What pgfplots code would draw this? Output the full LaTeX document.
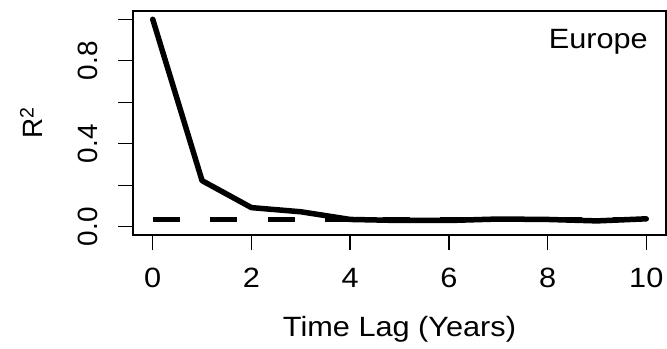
\documentclass[border=0pt]{standalone}
\usepackage{pgfplots}
\pgfplotsset{compat=1.18}
\usepackage{fontspec}
\setmainfont{Liberation Sans}[FakeStretch=1.1]
\newfontfamily\rotfont{Liberation Sans}
\begin{document}
\begin{tikzpicture}
\begin{axis}[
  width=533bp, height=224bp, scale only axis,
  xmin=-0.4, xmax=10.4, ymin=-0.04, ymax=1.04,
  axis line style={line width=1.3bp},
  every tick/.style={line width=1.3bp, black},
  tick align=outside, tick pos=left,
  major tick length=15bp,
  xtick={0,2,4,6,8,10},
  ytick={0,0.2,0.4,0.6,0.8,1.0},
  yticklabels={0.0,,0.4,,0.8,},
  /pgf/number format/assume math mode=true,
  xticklabel style={font=\fontsize{28}{34}\selectfont, inner sep=0pt, anchor=north},
  yticklabel style={font=\fontsize{28}{34}\rotfont, rotate=90, anchor=south, inner sep=0pt},
  xticklabel shift=18bp,
  yticklabel shift=20bp,
  xlabel={Time Lag (Years)},
  xlabel style={font=\fontsize{28}{34}\selectfont, at={(axis description cs:0.5,-0.451)}, anchor=base, inner sep=0pt},
  ylabel={R\textsuperscript{2}},
  ylabel style={font=\fontsize{28}{34}\rotfont, at={(axis description cs:-0.169,0.5)}, anchor=south, inner sep=0pt},
]
\addplot[black, line width=5.5bp, line join=round, line cap=round] coordinates {
(0,1.0) (1,0.222) (2,0.092) (3,0.072) (4,0.035) (5,0.030) (6,0.030) (7,0.037) (8,0.035) (9,0.028) (10,0.038)
};
\addplot[black, line width=5.5bp, line cap=butt, dash pattern=on 27bp off 30.5bp] coordinates {
(0,0.034) (10,0.034)
};
\node[anchor=north east, inner sep=0pt, font=\fontsize{28}{34}\selectfont] at (rel axis cs:1,1) [xshift=-18bp, yshift=-18bp] {Europe};
\coordinate (sw) at (rel axis cs:0,0);
\coordinate (ne) at (rel axis cs:1,1);
\end{axis}
\pgfresetboundingbox
\path ([xshift=-133bp,yshift=-114bp]sw) rectangle ([xshift=1bp,yshift=11bp]ne);
\end{tikzpicture}
\end{document}
